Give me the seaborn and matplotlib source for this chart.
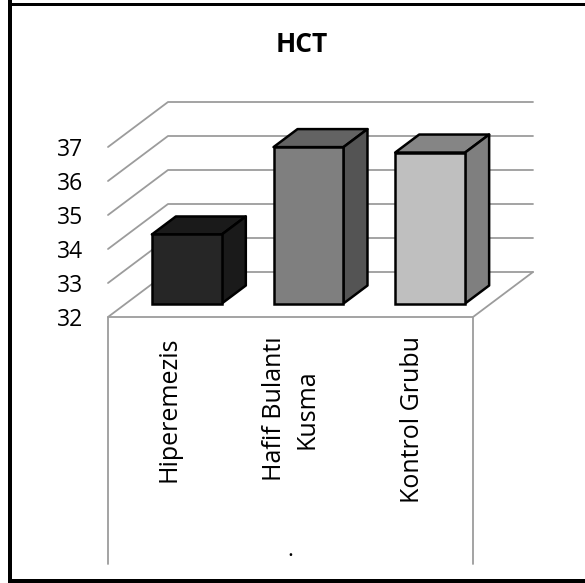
import matplotlib.pyplot as plt
import numpy as np
import pandas as pd
import seaborn as sns
from matplotlib.patches import Polygon, Rectangle
from matplotlib.transforms import Affine2D

categories = ["Hiperemezis", "Hafif Bulantı\nKusma", "Kontrol Grubu"]
values = [34.03, 36.6, 36.44]
yticks = [32, 33, 34, 35, 36, 37]
front_colors = ["#262626", "#7f7f7f", "#bfbfbf"]
top_colors = ["#1a1a1a", "#636363", "#858585"]
side_colors = ["#1a1a1a", "#545454", "#7f7f7f"]

W, H = 585, 583
DEPTH_X, DEPTH_Y = 60, 45  # chart depth in pixels
GRID = "#9c9c9c"
EDGE = 1.8

sns.set_theme(style="white")
plt.rcParams["font.family"] = ["Open Sans", "DejaVu Sans"]
plt.rcParams["text.color"] = "black"

fig = plt.figure(figsize=(W / 100, H / 100), dpi=100)
ax = fig.add_axes([108 / W, 1 - 317 / H, 365 / W, 170 / H])

df = pd.DataFrame({"group": categories, "value": values})
sns.barplot(
    data=df,
    x="group",
    y="value",
    hue="group",
    palette=front_colors,
    legend=False,
    width=0.575,
    edgecolor="black",
    linewidth=EDGE,
    ax=ax,
    zorder=3,
)
ax.set_xlim(-0.5, 2.5)
ax.set_ylim(32, 37)
sns.despine(ax=ax, left=True, bottom=True)
ax.set_yticks(yticks)
ax.tick_params(axis="y", length=0, pad=18, labelsize=16.5, labelcolor="black")
ax.tick_params(axis="x", length=0, pad=14, labelsize=18, labelcolor="black")
ax.set_xticks(range(3))
ax.set_xticklabels(categories, rotation=90, va="top", ha="center", ma="center", linespacing=1.4)
ax.set_xlabel(".", fontsize=16, labelpad=0, color="black")
ax.xaxis.set_label_coords(0.5, -1.31)
ax.set_ylabel("")


def proj(x, y, depth):
    px, py = ax.transData.transform((x, y))
    return px + depth * DEPTH_X, py + depth * DEPTH_Y


def pix_line(points, **kw):
    xs, ys = zip(*points)
    ax.plot(xs, ys, transform=Affine2D(), clip_on=False, **kw)


for v in yticks:
    a = proj(-0.5, v, 0)
    b = proj(-0.5, v, 1)
    c = proj(2.5, v, 1)
    pix_line([a, b, c], color=GRID, lw=1.3, zorder=1)
pix_line([proj(2.5, 32, 0), proj(2.5, 32, 1)], color=GRID, lw=1.3, zorder=1)

# front panel below the floor
bottom_y = H - 564
left = proj(-0.5, 32, 0)
right = proj(2.5, 32, 0)
pix_line([(left[0], bottom_y), left, right, (right[0], bottom_y)], color=GRID, lw=1.3, zorder=2)

# bars sit 0.3 to 0.7 of the way through the depth
for i, (bar, val) in enumerate(zip(ax.patches, values)):
    bar.set_y(32)
    bar.set_height(val - 32)
    bar.set_transform(ax.transData + Affine2D().translate(0.3 * DEPTH_X, 0.3 * DEPTH_Y))
    bar.set_clip_on(False)
    x0, x1 = bar.get_x(), bar.get_x() + bar.get_width()
    top = [proj(x0, val, 0.3), proj(x1, val, 0.3), proj(x1, val, 0.7), proj(x0, val, 0.7)]
    side = [proj(x1, 32, 0.3), proj(x1, val, 0.3), proj(x1, val, 0.7), proj(x1, 32, 0.7)]
    for pts, col in ((top, top_colors[i]), (side, side_colors[i])):
        ax.add_patch(
            Polygon(pts, closed=True, facecolor=col, edgecolor="black", lw=EDGE,
                    transform=Affine2D(), clip_on=False, zorder=2.9, joinstyle="round")
        )

fig.text(302 / W, 1 - 44 / H, "HCT", fontsize=19, fontweight="bold", ha="center", va="center", color="black")

# frame: left, top and bottom edges only, the right one is cut off
for x, y, w, h in [(8, 0, 4, 583), (8, 3, 577, 3), (8, 579, 577, 4)]:
    fig.add_artist(
        Rectangle((x / W, 1 - (y + h) / H), w / W, h / H, transform=fig.transFigure,
                  facecolor="black", edgecolor="none")
    )

fig.savefig("out.png", dpi=100)
